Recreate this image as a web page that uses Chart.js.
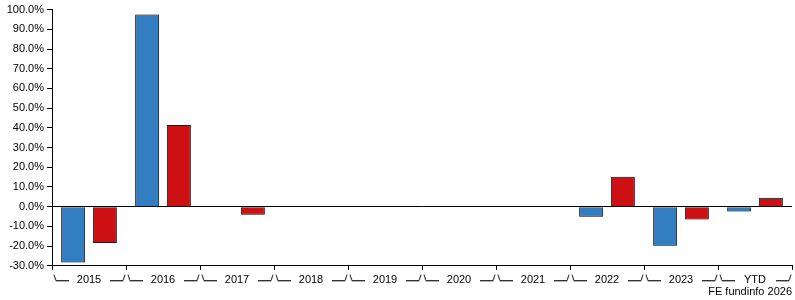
<!DOCTYPE html>
<html>
<head>
<meta charset="utf-8">
<script src="https://cdn.jsdelivr.net/npm/chart.js@4"></script>
<style>
  html, body { margin: 0; padding: 0; background: #fff; }
  #wrap { width: 795px; height: 300px; position: relative; }
</style>
</head>
<body>
<div id="wrap"><canvas id="c" width="795" height="300"></canvas></div>
<script>
const categories = ['2015', '2016', '2017', '2018', '2019', '2020', '2021', '2022', '2023', 'YTD'];
const fundValues = [-28.3, 97.5, null, null, null, null, null, -5.1, -19.8, -2.4];
const sectorValues = [-18.4, 41.5, -4.1, null, null, null, null, 15.2, -6.5, 4.5];
const yTickMin = -30;
const yTickMax = 100;
const yTickStep = 10;
const creditText = 'FE fundinfo 2026';

const FONT = "'Liberation Sans', Arial, sans-serif";

const shadowPlugin = {
  id: 'barShadow',
  beforeDatasetsDraw(chart) {
    const ctx = chart.ctx;
    ctx.save();
    ctx.shadowColor = 'rgba(0,0,0,0.35)';
    ctx.shadowBlur = 2;
    ctx.shadowOffsetX = 0;
    ctx.shadowOffsetY = 0;
  },
  afterDatasetsDraw(chart) {
    chart.ctx.restore();
  }
};

const bracketPlugin = {
  id: 'brackets',
  afterDraw(chart) {
    const ctx = chart.ctx;
    const xs = chart.scales.x;
    const n = categories.length;
    const half = (xs.getPixelForValue(1) - xs.getPixelForValue(0)) / 2;
    const yTop = Math.round(xs.top) + 8.5;
    const yBot = Math.round(xs.top) + 14.5;
    function drawSet(color, dy) {
      ctx.strokeStyle = color;
      ctx.lineWidth = 1;
      for (let i = 0; i < n; i++) {
        const c = xs.getPixelForValue(i);
        const L = Math.round(c - half);
        const R = Math.round(c + half);
        ctx.beginPath();
        ctx.moveTo(L + 2, yTop + dy);
        ctx.lineTo(L + 4, yBot + dy);
        ctx.lineTo(L + 17, yBot + dy);
        ctx.stroke();
        ctx.beginPath();
        ctx.moveTo(R - 16, yBot + dy);
        ctx.lineTo(R - 3, yBot + dy);
        ctx.lineTo(R - 1, yTop + dy);
        ctx.stroke();
      }
    }
    ctx.save();
    drawSet('#b0b0b0', 1);
    drawSet('#333333', 0);
    ctx.restore();
  }
};

new Chart(document.getElementById('c'), {
  type: 'bar',
  data: {
    labels: categories,
    datasets: [
      {
        label: 'Fund',
        data: fundValues,
        backgroundColor: '#337DC1',
        borderColor: '#222222',
        borderWidth: 1,
        categoryPercentage: 0.857,
        barPercentage: 0.757
      },
      {
        label: 'Sector',
        data: sectorValues,
        backgroundColor: '#CC1014',
        borderColor: '#222222',
        borderWidth: 1,
        categoryPercentage: 0.857,
        barPercentage: 0.757
      }
    ]
  },
  options: {
    responsive: false,
    animation: false,
    devicePixelRatio: 1,
    layout: { padding: { left: 0, right: 3, top: 9, bottom: 0 } },
    plugins: {
      legend: { display: false },
      tooltip: { enabled: false },
      title: {
        display: true,
        text: creditText,
        position: 'bottom',
        align: 'end',
        color: '#000',
        font: { family: FONT, size: 11, weight: 'normal', lineHeight: 1.2 },
        padding: { top: 0, bottom: 1 }
      }
    },
    scales: {
      x: {
        type: 'category',
        offset: true,
        afterFit(scale) { scale.height = 20; },
        grid: {
          display: true,
          offset: true,
          drawOnChartArea: false,
          drawTicks: true,
          tickLength: 4,
          color: '#000',
          tickColor: '#000'
        },
        border: { display: true, color: '#000', width: 1 },
        ticks: {
          color: '#000',
          font: { family: FONT, size: 11, lineHeight: 1.2 },
          padding: 4,
          maxRotation: 0,
          autoSkip: false
        }
      },
      y: {
        min: yTickMin,
        max: yTickMax,
        afterFit(scale) { scale.width = 52; },
        grid: {
          display: true,
          drawOnChartArea: true,
          drawTicks: true,
          tickLength: 5,
          color: (c) => (c.tick && c.tick.value === 0 ? '#000' : 'rgba(0,0,0,0)'),
          tickColor: '#000',
          lineWidth: 1
        },
        border: { display: true, color: '#000', width: 1 },
        ticks: {
          stepSize: yTickStep,
          color: '#000',
          padding: 3,
          font: { family: FONT, size: 11, lineHeight: 1.2 },
          callback: (v) => v.toFixed(1) + '%'
        }
      }
    }
  },
  plugins: [shadowPlugin, bracketPlugin]
});
</script>
</body>
</html>
